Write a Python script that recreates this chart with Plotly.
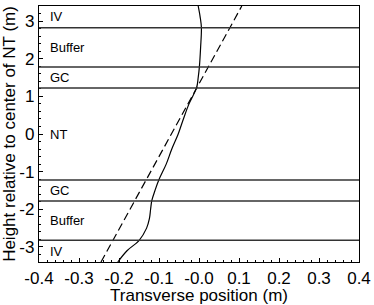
import plotly.graph_objects as go

# measured profile (solid) and reference line (dashed)
solid_y = [-3.4, -3.1, -2.83, -2.5, -2.25, -2.0, -1.77, -1.5, -1.21, -0.8, -0.4,
           0.0, 0.4, 0.8, 1.23, 1.5, 1.79, 2.3, 2.83, 3.1, 3.4]
solid_x = [-0.203, -0.18, -0.150, -0.131, -0.124, -0.121, -0.118, -0.110, -0.100,
           -0.082, -0.068, -0.052, -0.039, -0.025, -0.006, -0.002, 0.001, 0.004,
           0.006, 0.003, -0.002]

dash_y = [-3.4, 3.4]
dash_x = [-0.245, 0.107]

layer_bounds = [-2.82, -1.78, -1.22, 1.22, 1.78, 2.82]
layer_names = ["IV", "Buffer", "GC", "NT", "GC", "Buffer", "IV"]
layer_label_y = [-3.11, -2.3, -1.5, 0.0, 1.5, 2.3, 3.11]

xticks = [-0.4, -0.3, -0.2, -0.1, 0.0, 0.1, 0.2, 0.3, 0.4]
xticktext = ["-0.4", "-0.3", "-0.2", "-0.1", "-0.0", "0.1", "0.2", "0.3", "0.4"]
yticks = [-3, -2, -1, 0, 1, 2, 3]
yticktext = ["-3", "-2", "-1", "0", "1", "2", "3"]

font = "Liberation Sans, Arial, sans-serif"

fig = go.Figure()
fig.add_trace(go.Scatter(x=dash_x, y=dash_y, mode="lines",
                         line=dict(color="black", width=1.2, dash="8px,4px")))
fig.add_trace(go.Scatter(x=solid_x, y=solid_y, mode="lines",
                         line=dict(color="black", width=1.2, shape="spline")))

for b in layer_bounds:
    fig.add_hline(y=b, line=dict(color="#333", width=1.5))

for name, yy in zip(layer_names, layer_label_y):
    fig.add_annotation(x=-0.378, y=yy, text=name, showarrow=False, xanchor="left",
                       yanchor="middle", font=dict(size=13, color="black", family=font))

fig.update_layout(
    width=374, height=305,
    margin=dict(l=39, r=15, t=6, b=43),
    plot_bgcolor="white", paper_bgcolor="white",
    showlegend=False,
    font=dict(family=font, color="black", size=17),
)
fig.update_xaxes(range=[-0.4, 0.4], tickvals=xticks, ticktext=xticktext,
                 ticks="inside", ticklen=4, tickcolor="black", automargin=False,
                 minor=dict(dtick=0.02, ticks="inside", ticklen=2, tickcolor="black"),
                 showgrid=False, zeroline=False, showline=True, linecolor="black",
                 linewidth=1.3, mirror=True,
                 title=dict(text="Transverse position (m)", standoff=0, font=dict(size=17)),
                 tickfont=dict(size=17))
fig.update_yaxes(range=[-3.4, 3.4], tickvals=yticks, ticktext=yticktext,
                 ticks="inside", ticklen=4, tickcolor="black", automargin=False,
                 minor=dict(dtick=0.2, ticks="inside", ticklen=2, tickcolor="black"),
                 showgrid=False, zeroline=False, showline=True, linecolor="black",
                 linewidth=1.3, mirror=True,
                 title=dict(text="Height relative to center of NT (m)", standoff=0,
                            font=dict(size=17)),
                 tickfont=dict(size=17))

# page body has a default 8px margin; drop it so the figure sits at the corner
fig.write_html("out.html", config={"displayModeBar": False},
               post_script="document.body.style.margin='0px';")
